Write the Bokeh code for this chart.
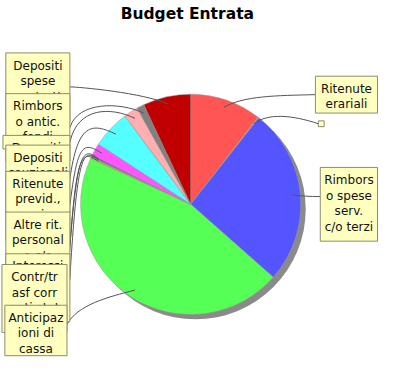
import numpy as np
from bokeh.plotting import figure
from bokeh.models import Range1d
from bokeh.core.properties import value
from bokeh.embed import file_html
from bokeh.resources import INLINE

# ---------------- data ----------------
title = "Budget Entrata"
categories = [
    "Ritenute erariali",
    "",
    "Rimborso spese serv. c/o terzi",
    "Anticipazioni di cassa",
    "Contr/trasf correnti stato",
    "Interessi attivi",
    "Altre rit. personale c/o terzi",
    "Ritenute previd., assic.",
    "Depositi cauzionali",
    "Depositi",
    "Rimborso antic. fondi",
    "Depositi spese contrattuali",
]
values = [10.5, 0.1, 25.9, 45.3, 0.2, 0.15, 0.2, 1.8, 5.6, 2.1, 1.1, 7.0]
label_lines = [
    ["Ritenute", "erariali"],
    [],
    ["Rimbors", "o spese", "serv.", "c/o terzi"],
    ["Anticipaz", "ioni di", "cassa"],
    ["Contr/tr", "asf corr", "enti stat", "o"],
    ["Interessi", "attivi"],
    ["Altre rit.", "personal", "e c/o", "terzi"],
    ["Ritenute", "previd.,", "assic."],
    ["Depositi", "cauzionali"],
    ["Depositi"],
    ["Rimbors", "o antic.", "fondi"],
    ["Depositi", "spese", "contratt", "uali"],
]
colors = ["#FF5555", "#FFFF55", "#5555FF", "#55FF55", "#C0C000", "#00C0C0",
          "#C000C0", "#FF55FF", "#55FFFF", "#FFAFAF", "#808080", "#C00000"]

# ---------------- layout (reference pixel coords, y down) ----------------
REF_W, REF_H = 394, 374
W, H = 378, 358
X0 = 4.5
S = (REF_W - X0) / W
Y0 = 4.0


def Y(y):
    return REF_H - y


CX, CY, R = 200.5, 214.0, 113.5
SHADOW = 5.0

# box: (left, top, width, height, leader_y, side)
box_layout = {
    11: (10, 58, 66, 70, 93, "L"),
    10: (10, 100, 66, 70, 135, "L"),
    9: (7, 143, 69, 14, 150, "L"),
    8: (10, 153, 66, 70, 188, "L"),
    7: (10, 180, 66, 70, 215, "L"),
    6: (10, 222, 66, 70, 257, "L"),
    5: (10, 265, 66, 70, 290, "L"),
    4: (6, 276, 67, 70, 311, "L"),
    3: (9, 318, 64, 52, 338, "L"),
    0: (329, 82, 64, 38, 101, "R"),
    1: (332, 128, 6, 6, 131, "R"),
    2: (334, 176, 59, 76, 206, "R"),
}
left_order = [11, 10, 9, 8, 7, 6, 5, 4, 3]
right_order = [0, 2, 1]

p = figure(width=W, height=H,
           x_range=Range1d(X0, REF_W),
           y_range=Range1d(Y(Y0 + H * S), Y(Y0)),
           x_axis_type=None, y_axis_type=None,
           output_backend="svg", toolbar_location=None, min_border=0)
p.grid.visible = False
p.outline_line_color = None
p.background_fill_color = "white"
p.border_fill_color = "white"

# ---------------- pie ----------------
vals = np.array(values, dtype=float)
frac = vals / vals.sum()
t_end = np.cumsum(frac) * 360.0
t_start = t_end - frac * 360.0
t_mid = (t_start + t_end) / 2.0

p.circle(x=[CX + SHADOW], y=[Y(CY + SHADOW)], radius=R,
         fill_color="#8A8A8A", line_color=None)
p.wedge(x=CX, y=Y(CY), radius=R,
        start_angle=np.radians(90.0 - t_end).tolist(),
        end_angle=np.radians(90.0 - t_start).tolist(),
        fill_color=colors, line_color="#9A9A9A", line_width=0.5)

# ---------------- leaders ----------------
K = 0.93
for i, (l, t, w, h, ys, side) in box_layout.items():
    th = np.radians(t_mid[i])
    xt = CX + R * K * np.sin(th)
    yt = CY - R * K * np.cos(th)
    if side == "L":
        xs = l + w
        if i == 3:
            c0 = (xs + 10, ys - 20)
            c1 = (xt - 28, yt + 7)
        else:
            c0 = (xs + 8, min(ys, yt - 12))
            c1 = (max(xt - 25, xs + 14), yt - 12)
    else:
        xs = l
        if i == 2:
            c0 = (xs - 12, ys)
            c1 = (xt + 10, yt + 1)
        elif i == 0:
            c0 = (xs - 40, ys + 1)
            c1 = (xt + 20, yt - 12)
        else:
            c0 = (xs - 27, ys - 9)
            c1 = (xt + 15, yt - 11)
    p.bezier(x0=[xs], y0=[Y(ys)], x1=[xt], y1=[Y(yt)],
             cx0=[c0[0]], cy0=[Y(c0[1])], cx1=[c1[0]], cy1=[Y(c1[1])],
             line_color="#555555", line_width=1)

# ---------------- label boxes ----------------
FONT = value("DejaVu Sans")
for i in left_order + right_order:
    l, t, w, h, ys, side = box_layout[i]
    p.quad(left=[l], right=[l + w], top=[Y(t)], bottom=[Y(t + h)],
           fill_color="#FFFFC0", line_color="#8C8C70", line_width=1)
    lines = label_lines[i]
    if lines:
        p.text(x=[l + w / 2.0] * len(lines),
               y=[Y(t + 13 + 16 * k) for k in range(len(lines))],
               text=lines, text_align="center", text_baseline="middle",
               text_font=FONT, text_font_size="12px", text_color="#111111")

# ---------------- title ----------------
p.text(x=[197], y=[Y(18)], text=[title], text_align="center",
       text_baseline="middle", text_font=FONT, text_font_style="bold",
       text_font_size="15.5px", text_color="black")

open("out.html", "w").write(file_html(p, INLINE))
